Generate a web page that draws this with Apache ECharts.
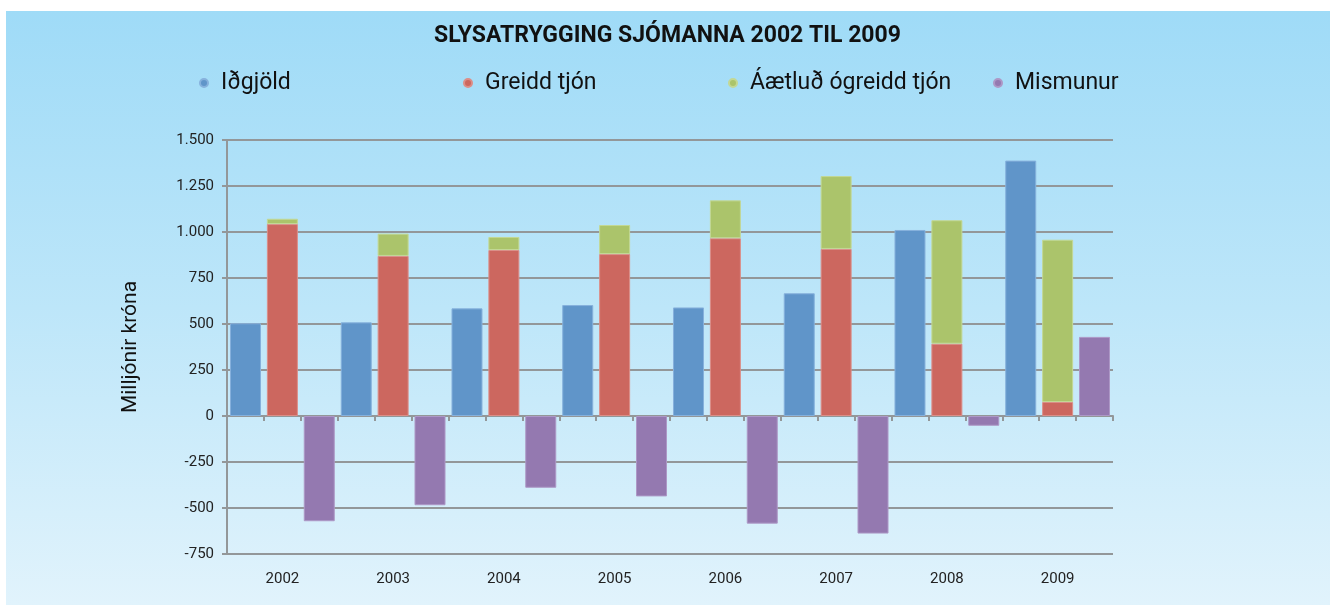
<!DOCTYPE html>
<html>
<head>
<meta charset="utf-8">
<script src="https://cdn.jsdelivr.net/npm/echarts@6/dist/echarts.min.js"></script>
<style>
html,body{margin:0;padding:0;background:#fff;}
#chart{width:1335px;height:605px;}
</style>
</head>
<body>
<div id="chart"></div>
<script>
const titleText = 'SLYSATRYGGING SJÓMANNA 2002 TIL 2009';
const yAxisName = 'Milljónir króna';
const categories = ['2002', '2003', '2004', '2005', '2006', '2007', '2008', '2009'];
const seriesNames = ['Iðgjöld', 'Greidd tjón', 'Áætluð ógreidd tjón', 'Mismunur'];
const idgjold = [504, 509, 585, 603, 590, 667, 1011, 1388];
const greiddTjon = [1043, 870, 902, 880, 966, 908, 393, 76];
const aetludOgreidd = [29, 121, 71, 158, 206, 396, 671, 882];
const mismunur = [-572, -485, -390, -437, -585, -639, -53, 430];
const yTicks = { min: -750, max: 1500, interval: 250 };

const colors = ['#6095c9', '#cc675f', '#abc46b', '#9479b0'];
const borders = ['#86b1dc', '#dc8e88', '#c3d894', '#ad98c6'];
const gridColor = '#939799';
const font = 'Roboto';

const chart = echarts.init(document.getElementById('chart'), null, {renderer: 'canvas'});

function fmt(v) {
  const s = Math.abs(v).toString().replace(/\B(?=(\d{3})+(?!\d))/g, '.');
  return (v < 0 ? '-' : '') + s;
}

const legendLefts = [199, 463, 728, 993];
const legends = seriesNames.map((n, i) => ({
  data: [n],
  left: legendLefts[i],
  top: 70,
  icon: 'circle',
  itemWidth: 8,
  itemHeight: 8,
  padding: 0,
  textStyle: { fontFamily: font, fontSize: 23, color: '#111', padding: [0, 0, 0, 8], lineHeight: 26 }
}));

function barSeries(i, data, extra) {
  return Object.assign({
    name: seriesNames[i],
    type: 'bar',
    data: data,
    barWidth: 31,
    barGap: '19%',
    xAxisIndex: 0,
    yAxisIndex: 0,
    itemStyle: { color: colors[i], borderColor: borders[i], borderWidth: 1 }
  }, extra || {});
}

const option = {
  animation: false,
  backgroundColor: '#ffffff',
  graphic: [{
    type: 'rect',
    left: 6, top: 11, z: -10,
    shape: { width: 1324, height: 594 },
    style: {
      fill: new echarts.graphic.LinearGradient(0, 0, 0, 1, [
        { offset: 0, color: '#9fdbf7' },
        { offset: 0.5, color: '#bde6f9' },
        { offset: 1, color: '#e1f3fc' }
      ])
    }
  }],
  title: {
    text: titleText,
    left: 'center',
    top: 25,
    padding: 0,
    textStyle: { fontFamily: font, fontSize: 23, fontWeight: 'bold', color: '#111' }
  },
  legend: legends,
  grid: { left: 227, right: 222, top: 140, bottom: 51, containLabel: false },
  xAxis: [{
    type: 'category',
    data: categories,
    position: 'bottom',
    axisLine: { show: false, onZero: false },
    axisTick: { show: false },
    splitLine: { show: false },
    axisLabel: { margin: 18, fontFamily: font, fontSize: 15, color: '#222' }
  }, {
    type: 'value',
    position: 'top',
    min: 0, max: 24, interval: 1,
    axisLine: { show: true, onZero: true, lineStyle: { color: gridColor, width: 2 } },
    axisTick: { show: true, inside: true, length: 5, lineStyle: { color: gridColor, width: 2 } },
    axisLabel: { show: false },
    splitLine: { show: false }
  }],
  yAxis: {
    type: 'value',
    min: yTicks.min, max: yTicks.max, interval: yTicks.interval,
    name: yAxisName,
    nameLocation: 'middle',
    nameGap: 86,
    nameTextStyle: { fontFamily: font, fontSize: 21, color: '#111' },
    axisLine: { show: true, onZero: false, lineStyle: { color: gridColor, width: 2 } },
    axisTick: { show: true, length: 5, lineStyle: { color: gridColor, width: 2 } },
    splitLine: { show: true, lineStyle: { color: gridColor, width: 2 } },
    axisLabel: { margin: 13, fontFamily: font, fontSize: 15, color: '#222', formatter: fmt }
  },
  series: [
    barSeries(0, idgjold),
    barSeries(1, greiddTjon, { stack: 'tjon' }),
    barSeries(2, aetludOgreidd, { stack: 'tjon' }),
    barSeries(3, mismunur)
  ]
};
chart.setOption(option);
</script>
</body>
</html>
